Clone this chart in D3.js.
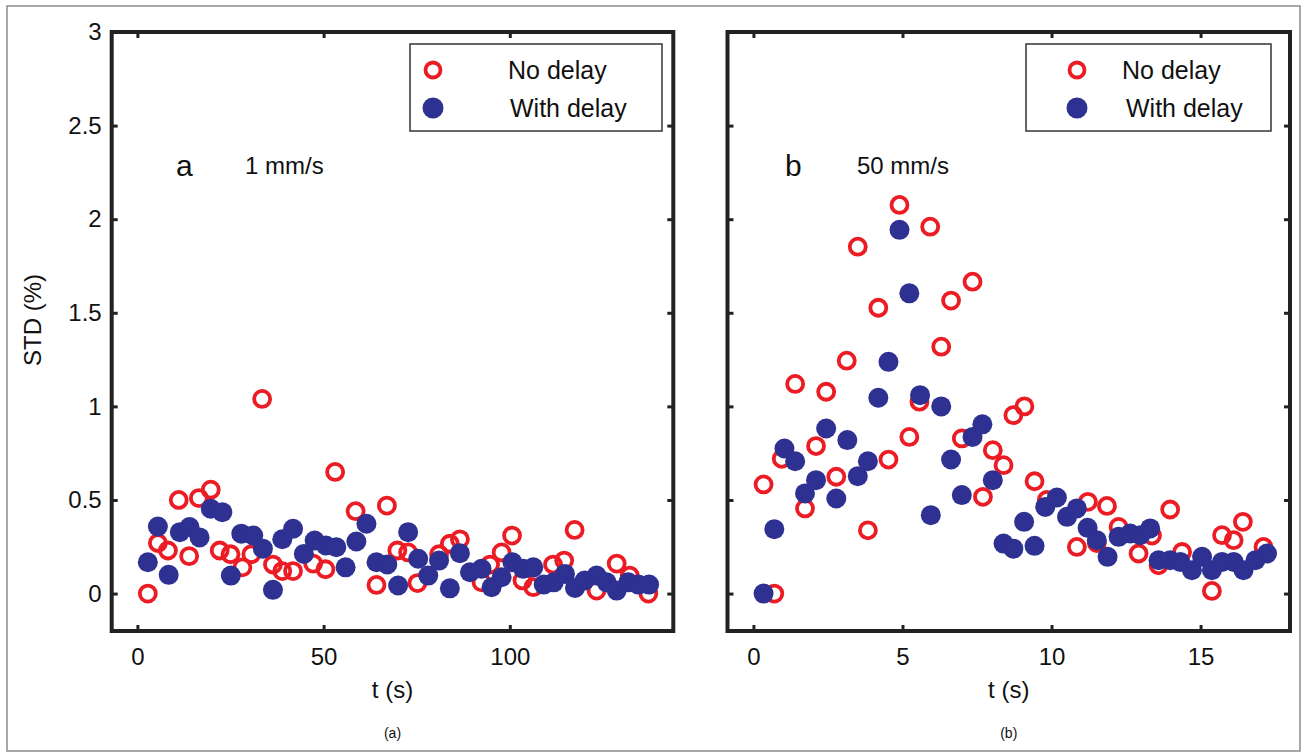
<!DOCTYPE html>
<html>
<head>
<meta charset="utf-8">
<script src="https://cdn.jsdelivr.net/npm/d3@7"></script>
<style>
  body { margin: 0; background: #fff; }
  svg text { font-family: "Liberation Sans", Arial, sans-serif; fill: #111; }
</style>
</head>
<body>
<div id="chart"></div>
<script>
// panel (a): 1 mm/s  -- [t (s), STD (%)]
const aNoDelay = [
  [2.8, 0.0], [5.5, 0.27], [8.2, 0.23], [11.1, 0.5], [13.9, 0.2], [16.5, 0.51], [19.7, 0.555],
  [22.1, 0.23], [25.0, 0.21], [28.2, 0.14], [30.6, 0.21], [33.5, 1.04], [36.4, 0.155], [38.9, 0.12],
  [41.8, 0.12], [47.2, 0.16], [50.5, 0.13], [53.1, 0.65], [58.6, 0.44], [64.2, 0.046], [67.0, 0.47],
  [69.8, 0.23], [72.7, 0.22], [75.2, 0.056], [81.0, 0.21], [83.9, 0.266], [86.6, 0.29], [92.4, 0.06],
  [94.7, 0.155], [97.8, 0.22], [100.6, 0.31], [103.4, 0.07], [106.3, 0.034], [111.6, 0.155],
  [114.6, 0.176], [117.4, 0.34], [123.3, 0.016], [128.7, 0.16], [132.2, 0.096], [137.2, 0.0]
];
const aWithDelay = [
  [2.8, 0.167], [5.5, 0.358], [8.4, 0.1], [11.4, 0.328], [14.0, 0.355], [16.7, 0.3], [19.7, 0.453],
  [22.8, 0.435], [25.1, 0.096], [27.9, 0.32], [31.1, 0.31], [33.7, 0.24], [36.4, 0.02], [38.9, 0.29],
  [41.8, 0.346], [44.7, 0.212], [47.6, 0.283], [50.6, 0.257], [53.4, 0.248], [55.9, 0.14], [58.8, 0.278],
  [61.5, 0.373], [64.2, 0.167], [67.1, 0.155], [70.0, 0.043], [72.7, 0.328], [75.4, 0.186], [78.1, 0.096],
  [81.0, 0.176], [83.9, 0.028], [86.6, 0.216], [89.3, 0.114], [92.4, 0.132], [95.1, 0.034], [97.8, 0.087],
  [100.7, 0.167], [103.6, 0.132], [106.3, 0.14], [109.1, 0.048], [111.8, 0.06], [114.8, 0.105],
  [117.5, 0.03], [120.1, 0.07], [123.3, 0.096], [126.0, 0.06], [128.7, 0.016], [131.8, 0.06],
  [134.5, 0.048], [137.4, 0.048]
];

// panel (b): 50 mm/s
const bNoDelay = [
  [0.34, 0.583], [0.70, 0.0], [0.95, 0.72], [1.40, 1.12], [1.73, 0.455], [2.10, 0.788], [2.44, 1.078],
  [2.78, 0.624], [3.13, 1.244], [3.50, 1.853], [3.84, 0.338], [4.19, 1.527], [4.53, 0.716], [4.90, 2.076],
  [5.23, 0.837], [5.57, 1.025], [5.93, 1.96], [6.30, 1.319], [6.63, 1.565], [6.99, 0.829], [7.35, 1.666],
  [7.70, 0.517], [8.03, 0.766], [8.39, 0.686], [8.72, 0.953], [9.09, 1.0], [9.43, 0.6], [9.84, 0.5],
  [10.85, 0.249], [11.22, 0.49], [11.52, 0.27], [11.86, 0.468], [12.25, 0.356], [12.92, 0.214],
  [13.37, 0.31], [13.59, 0.151], [13.98, 0.449], [14.38, 0.222], [15.38, 0.014], [15.72, 0.312],
  [16.11, 0.285], [16.42, 0.383], [17.11, 0.249]
];
const bWithDelay = [
  [0.34, 0.0], [0.70, 0.344], [1.04, 0.775], [1.40, 0.707], [1.73, 0.535], [2.10, 0.606], [2.44, 0.882],
  [2.78, 0.508], [3.15, 0.82], [3.50, 0.627], [3.84, 0.707], [4.19, 1.046], [4.53, 1.238], [4.90, 1.943],
  [5.23, 1.604], [5.59, 1.06], [5.95, 0.419], [6.30, 1.0], [6.63, 0.716], [6.99, 0.526], [7.35, 0.837],
  [7.68, 0.904], [8.03, 0.606], [8.39, 0.267], [8.72, 0.24], [9.08, 0.383], [9.43, 0.255], [9.79, 0.463],
  [10.18, 0.513], [10.52, 0.41], [10.85, 0.455], [11.21, 0.351], [11.52, 0.285], [11.88, 0.196],
  [12.25, 0.303], [12.64, 0.321], [12.98, 0.312], [13.31, 0.348], [13.59, 0.178], [13.98, 0.178],
  [14.32, 0.169], [14.71, 0.125], [15.05, 0.196], [15.38, 0.125], [15.72, 0.169], [16.11, 0.169],
  [16.44, 0.125], [16.84, 0.178], [17.23, 0.214]
];

const yTicks = [0, 0.5, 1, 1.5, 2, 2.5, 3];
const aTicks = [0, 50, 100];
const bTicks = [0, 5, 10, 15];
const seriesNames = ["No delay", "With delay"];

const red = "#ec1c24", blue = "#2e3192";

const W = 1307, H = 756;
const svg = d3.select("#chart").append("svg").attr("width", W).attr("height", H);

// outer frame
svg.append("rect")
  .attr("x", 7).attr("y", 6).attr("width", 1293).attr("height", 745)
  .attr("fill", "none").attr("stroke", "#8a8a8a").attr("stroke-width", 1.5);

const y = d3.scaleLinear().domain([-0.2, 3]).range([631, 32]);

function drawPanel(p) {
  const x = d3.scaleLinear().domain(p.xDomain).range(p.xRange);
  const g = svg.append("g");
  const [x0, x1] = p.xRange;

  // ticks (inward, mirrored on all four sides)
  g.append("g").attr("transform", `translate(0,${y(-0.2)})`)
    .call(d3.axisBottom(x).tickValues(p.xTicks).tickSizeInner(-6).tickSizeOuter(0).tickPadding(17));
  g.append("g").attr("transform", `translate(0,${y(3)})`)
    .call(d3.axisTop(x).tickValues(p.xTicks).tickSizeInner(-6).tickSizeOuter(0).tickFormat(""));
  g.append("g").attr("transform", `translate(${x0},0)`)
    .call(d3.axisLeft(y).tickValues(yTicks).tickSizeInner(-6).tickSizeOuter(0).tickPadding(10)
      .tickFormat(p.yLabels ? d3.format("") : ""));
  g.append("g").attr("transform", `translate(${x1},0)`)
    .call(d3.axisRight(y).tickValues(yTicks).tickSizeInner(-6).tickSizeOuter(0).tickFormat(""));

  g.selectAll(".domain").remove();
  g.selectAll(".tick line").attr("stroke", "#222").attr("stroke-width", 3);
  g.selectAll(".tick text").attr("font-size", 24).attr("fill", "#111")
    .attr("font-family", "Liberation Sans, Arial, sans-serif");

  // plot box
  g.append("rect")
    .attr("x", x0).attr("y", y(3)).attr("width", x1 - x0).attr("height", y(-0.2) - y(3))
    .attr("fill", "none").attr("stroke", "#222").attr("stroke-width", 4);

  // markers: rings first, filled dots on top
  g.append("g").selectAll("circle").data(p.noDelay).join("circle")
    .attr("cx", d => x(d[0])).attr("cy", d => y(d[1])).attr("r", 8)
    .attr("fill", "none").attr("stroke", red).attr("stroke-width", 3.8);
  g.append("g").selectAll("circle").data(p.withDelay).join("circle")
    .attr("cx", d => x(d[0])).attr("cy", d => y(d[1])).attr("r", 10)
    .attr("fill", blue);

  // legend
  const L = p.legend;
  g.append("rect").attr("x", L.x).attr("y", 44).attr("width", L.w).attr("height", 87)
    .attr("fill", "#fff").attr("stroke", "#333").attr("stroke-width", 1.5);
  g.append("circle").attr("cx", L.mx).attr("cy", 70).attr("r", 7.5)
    .attr("fill", "none").attr("stroke", red).attr("stroke-width", 3.8);
  g.append("circle").attr("cx", L.mx).attr("cy", 108).attr("r", 10.5).attr("fill", blue);
  g.append("text").attr("x", L.t1).attr("y", 79).attr("font-size", 25).text(seriesNames[0]);
  g.append("text").attr("x", L.t2).attr("y", 117).attr("font-size", 25).text(seriesNames[1]);

  // panel annotations
  g.append("text").attr("x", p.letterX).attr("y", 176)
    .attr("font-family", "Liberation Serif, Times New Roman, serif").attr("font-size", 30)
    .attr("fill", "#444").text(p.letter);
  g.append("text").attr("x", p.speedX).attr("y", 174).attr("font-size", 24).text(p.speed);

  // axis titles
  const cx = (x0 + x1) / 2;
  g.append("text").attr("x", cx).attr("y", 698).attr("text-anchor", "middle")
    .attr("font-size", 24).text("t (s)");
  g.append("text").attr("x", cx).attr("y", 738).attr("text-anchor", "middle")
    .attr("font-size", 14).text(p.caption);
}

drawPanel({
  xDomain: [-6.9, 143.9], xRange: [111.7, 673.3], xTicks: aTicks, yLabels: true,
  noDelay: aNoDelay, withDelay: aWithDelay,
  legend: { x: 410, w: 252, mx: 433, t1: 508, t2: 510 },
  letter: "a", letterX: 176, speed: "1 mm/s", speedX: 245, caption: "(a)"
});
drawPanel({
  xDomain: [-0.87, 18.0], xRange: [727.5, 1290], xTicks: bTicks, yLabels: false,
  noDelay: bNoDelay, withDelay: bWithDelay,
  legend: { x: 1026, w: 245, mx: 1077, t1: 1122, t2: 1126 },
  letter: "b", letterX: 785, speed: "50 mm/s", speedX: 857, caption: "(b)"
});

svg.append("text")
  .attr("transform", "translate(41,320) rotate(-90)")
  .attr("text-anchor", "middle").attr("font-size", 24).text("STD (%)");
</script>
</body>
</html>
